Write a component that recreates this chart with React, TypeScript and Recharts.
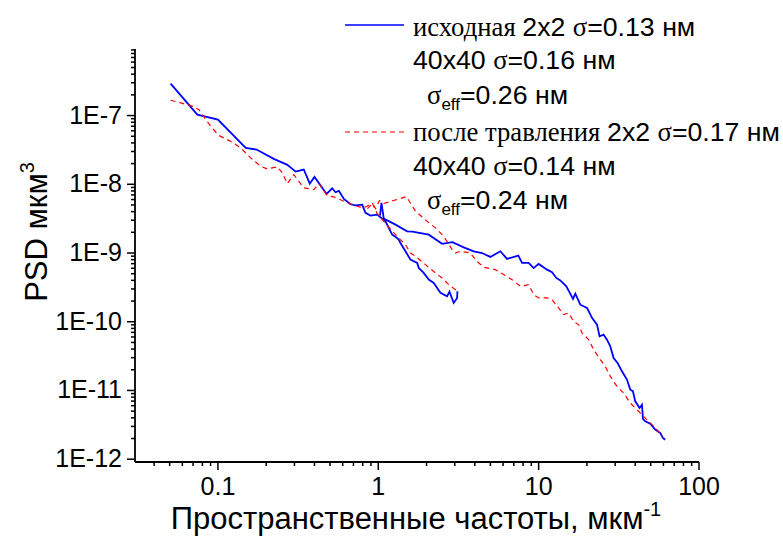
import React from 'react';
import { LineChart, Line, XAxis, YAxis } from 'recharts';

// ---- Data (spatial frequency, 1/µm ; PSD, µm^3) ----
const origLowFreq = [0.0507, 0.0744, 0.1, 0.149, 0.174, 0.223, 0.271, 0.305, 0.343, 0.374, 0.4, 0.476, 0.516, 0.541, 0.568, 0.61, 0.671, 0.721, 0.794, 0.832, 0.894, 0.984, 1.109, 1.221, 1.28, 1.342, 1.375, 1.477, 1.587, 1.748, 1.788, 1.92, 2.064, 2.218, 2.441, 2.687, 2.777, 2.954, 3.102, 3.115];
const origLowPsd = [2.92e-7, 1.03e-7, 8.74e-8, 3.39e-8, 3.2e-8, 2.34e-8, 1.92e-8, 1.53e-8, 1.64e-8, 1.02e-8, 1.28e-8, 7.24e-9, 8.75e-9, 7.65e-9, 8.02e-9, 6.13e-9, 5.12e-9, 4.95e-9, 5.06e-9, 3.84e-9, 3.5e-9, 3.62e-9, 2.89e-9, 1.85e-9, 1.72e-9, 1.57e-9, 1.4e-9, 1.06e-9, 8.02e-10, 7.18e-10, 6.07e-10, 5.13e-10, 4.1e-10, 3.67e-10, 2.63e-10, 2.34e-10, 2.74e-10, 1.88e-10, 2.22e-10, 2.77e-10];

const origHighFreq = [1.025, 1.047, 1.082, 1.28, 1.514, 1.633, 2.064, 2.5, 2.9, 3.41, 3.94, 4.44, 5.0, 5.77, 6.35, 7.47, 7.88, 8.66, 9.31, 10.0, 11.28, 12.12, 12.89, 13.65, 14.88, 15.38, 16.38, 16.93, 18.19, 20.03, 21.51, 23.12, 23.99, 25.41, 26.68, 27.98, 29.34, 31.06, 33.08, 35.54, 37.27, 38.74, 40.04, 42.6, 44.1, 44.72, 46.22, 49.66, 53.34, 57.32, 59.57, 61.5];
const origHighPsd = [3.5e-9, 5.36e-9, 3.17e-9, 2.59e-9, 2.07e-9, 2.05e-9, 1.85e-9, 1.36e-9, 1.44e-9, 1.21e-9, 1.06e-9, 1.0e-9, 8.77e-10, 1.06e-9, 8.21e-10, 9.16e-10, 7.18e-10, 7.18e-10, 6.03e-10, 6.94e-10, 5.73e-10, 5.24e-10, 4.34e-10, 4.0e-10, 3.28e-10, 2.84e-10, 2.15e-10, 2.56e-10, 1.77e-10, 1.59e-10, 1.14e-10, 9.08e-11, 6.13e-11, 6.49e-11, 5.49e-11, 4.38e-11, 2.97e-11, 2.51e-11, 1.9e-11, 1.44e-11, 1.03e-11, 9.71e-12, 6.94e-12, 5.56e-12, 6.21e-12, 3.85e-12, 3.55e-12, 3.29e-12, 2.69e-12, 2.41e-12, 2.04e-12, 1.92e-12];

const etchLowFreq = [0.0507, 0.0586, 0.0692, 0.0762, 0.0799, 0.09, 0.1014, 0.12, 0.1385, 0.16, 0.1845, 0.203, 0.2345, 0.252, 0.2706, 0.2975, 0.343, 0.396, 0.426, 0.48, 0.528, 0.61, 0.739, 0.794, 0.853, 0.916, 0.984, 1.082, 1.28, 1.477, 1.587, 1.706, 1.968, 2.272, 2.5, 2.75, 3.027, 3.115];
const etchLowPsd = [1.67e-7, 1.53e-7, 1.37e-7, 1.22e-7, 1.03e-7, 6.99e-8, 5.12e-8, 4.23e-8, 3.39e-8, 2.42e-8, 1.83e-8, 1.67e-8, 1.79e-8, 1.47e-8, 1.02e-8, 1.38e-8, 8.86e-9, 8.37e-9, 1.02e-8, 6.85e-9, 6.56e-9, 5.65e-9, 4.79e-9, 4.53e-9, 4.79e-9, 5.36e-9, 3.75e-9, 2.89e-9, 1.85e-9, 1.32e-9, 1.0e-9, 8.95e-10, 6.78e-10, 5.13e-10, 4.34e-10, 3.47e-10, 2.93e-10, 3.24e-10];

const etchHighFreq = [0.856, 0.92, 0.961, 1.017, 1.077, 1.499, 1.706, 2.017, 2.272, 2.56, 2.887, 3.027, 3.25, 3.75, 4.13, 4.54, 5.37, 6.05, 6.83, 7.69, 8.66, 9.31, 10.0, 11.28, 12.12, 13.32, 14.31, 15.38, 16.52, 17.75, 18.64, 20.49, 22.01, 24.24, 26.04, 27.98, 30.79, 33.85, 37.27, 41.03, 45.1, 49.66, 54.7, 58.99];
const etchHighPsd = [4.43e-9, 5.24e-9, 4.43e-9, 5.79e-9, 5.24e-9, 6.62e-9, 4.05e-9, 2.89e-9, 2.32e-9, 1.75e-9, 1.12e-9, 1.0e-9, 1.06e-9, 1.0e-9, 7.57e-10, 6.19e-10, 5.73e-10, 4.85e-10, 4.1e-10, 3.28e-10, 3.47e-10, 2.48e-10, 2.22e-10, 2.22e-10, 2.1e-10, 1.59e-10, 1.27e-10, 1.34e-10, 1.01e-10, 9.08e-11, 6.87e-11, 5.49e-11, 3.93e-11, 2.81e-11, 2.24e-11, 1.6e-11, 1.15e-11, 9.2e-12, 6.58e-12, 5.25e-12, 4.2e-12, 3.37e-12, 2.69e-12, 2.13e-12];

// ---- Ticks ----
const xMajorTicks = [0.1, 1, 10, 100];
const xMajorLabels = ['0.1', '1', '10', '100'];
const xMinorTicks = [0.04, 0.05, 0.06, 0.07, 0.08, 0.09, 0.2, 0.3, 0.4, 0.5, 0.6, 0.7, 0.8, 0.9, 2, 3, 4, 5, 6, 7, 8, 9, 20, 30, 40, 50, 60, 70, 80, 90];
const yMajorTicks = [1e-12, 1e-11, 1e-10, 1e-9, 1e-8, 1e-7];
const yMajorLabels = ['1E-12', '1E-11', '1E-10', '1E-9', '1E-8', '1E-7'];
const yMinorTicks = [
  2e-12, 3e-12, 4e-12, 5e-12, 6e-12, 7e-12, 8e-12, 9e-12,
  2e-11, 3e-11, 4e-11, 5e-11, 6e-11, 7e-11, 8e-11, 9e-11,
  2e-10, 3e-10, 4e-10, 5e-10, 6e-10, 7e-10, 8e-10, 9e-10,
  2e-9, 3e-9, 4e-9, 5e-9, 6e-9, 7e-9, 8e-9, 9e-9,
  2e-8, 3e-8, 4e-8, 5e-8, 6e-8, 7e-8, 8e-8, 9e-8,
  2e-7, 3e-7, 4e-7, 5e-7, 6e-7, 7e-7, 8e-7, 9e-7,
];
const xDomain = [0.0304, 100];
const yDomain = [9.1e-13, 9.3e-7];

const zip = (xs: number[], ys: number[]) => xs.map((f, i) => ({ f, p: ys[i] }));
const origLow = zip(origLowFreq, origLowPsd);
const origHigh = zip(origHighFreq, origHighPsd);
const etchLow = zip(etchLowFreq, etchLowPsd);
const etchHigh = zip(etchHighFreq, etchHighPsd);

const SANS = 'Arial, "Liberation Sans", sans-serif';
const SERIF = '"Times New Roman", "Liberation Serif", serif';
const TICK_FS = 25;

const XTick = (props: any) => {
  const { x, y, payload } = props;
  const idx = xMajorTicks.indexOf(payload.value);
  const major = idx >= 0;
  return (
    <g>
      <line x1={x} x2={x} y1={y} y2={y + (major ? 8 : 4)} stroke="#000" strokeWidth={1.5} />
      {major && (
        <text x={x} y={y + 33} textAnchor="middle" fontSize={TICK_FS} fontFamily={SANS} fill="#000">
          {xMajorLabels[idx]}
        </text>
      )}
    </g>
  );
};

const YTick = (props: any) => {
  const { x, y, payload } = props;
  const idx = yMajorTicks.indexOf(payload.value);
  const major = idx >= 0;
  return (
    <g>
      <line x1={x} x2={x - (major ? 8 : 4)} y1={y} y2={y} stroke="#000" strokeWidth={1.5} />
      {major && (
        <text x={x - 13} y={y + 8} textAnchor="end" fontSize={TICK_FS} fontFamily={SANS} fill="#000">
          {yMajorLabels[idx]}
        </text>
      )}
    </g>
  );
};

const LFS = 26.7;

export default function App() {
  return (
    <div style={{ position: 'absolute', left: 0, top: 0, width: 783, height: 536, background: '#fff', overflow: 'hidden' }}>
      <LineChart width={783} height={536} margin={{ top: 49, right: 84, bottom: 0, left: 0 }}>
        <XAxis
          dataKey="f"
          type="number"
          scale="log"
          domain={xDomain}
          allowDataOverflow
          ticks={[...xMinorTicks, ...xMajorTicks].sort((a, b) => a - b)}
          interval={0}
          tick={<XTick />}
          tickLine={false}
          tickSize={0}
          tickMargin={0}
          height={74}
          axisLine={{ stroke: '#000', strokeWidth: 1.8 }}
        />
        <YAxis
          dataKey="p"
          type="number"
          scale="log"
          domain={yDomain}
          allowDataOverflow
          ticks={[...yMinorTicks, ...yMajorTicks].sort((a, b) => a - b)}
          interval={0}
          tick={<YTick />}
          tickLine={false}
          tickSize={0}
          tickMargin={0}
          width={135}
          axisLine={{ stroke: '#000', strokeWidth: 1.8 }}
        />
        <Line data={origLow} dataKey="p" stroke="#0000ff" strokeWidth={1.8} dot={false} isAnimationActive={false} />
        <Line data={origHigh} dataKey="p" stroke="#0000ff" strokeWidth={1.8} dot={false} isAnimationActive={false} />
        <Line data={etchLow} dataKey="p" stroke="#ff0000" strokeWidth={1.2} strokeDasharray="5 4" dot={false} isAnimationActive={false} />
        <Line data={etchHigh} dataKey="p" stroke="#ff0000" strokeWidth={1.2} strokeDasharray="5 4" dot={false} isAnimationActive={false} />
      </LineChart>
      <svg width={783} height={536} style={{ position: 'absolute', left: 0, top: 0, pointerEvents: 'none' }}>
        {/* Y axis title */}
        <text transform="translate(47,232) rotate(-90)" textAnchor="middle" fontSize={31} fontFamily={SANS} fill="#000">
          PSD мкм<tspan fontSize={20} dy={-13}>3</tspan>
        </text>
        {/* X axis title */}
        <text x={416} y={529} textAnchor="middle" fontSize={31} fontFamily={SANS} fill="#000">
          Пространственные частоты, мкм<tspan fontSize={20} dy={-13}>-1</tspan>
        </text>
        {/* Legend */}
        <line x1={345} x2={404} y1={25} y2={25} stroke="#0000ff" strokeWidth={1.6} />
        <text x={413} y={36} fontSize={LFS} fontFamily={SANS} fill="#000">
          <tspan fontFamily={SERIF}>исходная </tspan>2x2 <tspan fontFamily={SERIF}>σ</tspan>=0.13 нм
        </text>
        <text x={413} y={69} fontSize={LFS} fontFamily={SANS} fill="#000">
          40x40 <tspan fontFamily={SERIF}>σ</tspan>=0.16 нм
        </text>
        <text x={427} y={104} fontSize={LFS} fontFamily={SANS} fill="#000">
          <tspan fontFamily={SERIF}>σ</tspan><tspan fontSize={17} dy={6}>eff</tspan><tspan dy={-6}>=0.26 нм</tspan>
        </text>
        <line x1={345} x2={404} y1={132} y2={132} stroke="#ff0000" strokeWidth={1.2} strokeDasharray="5 4" />
        <text x={413} y={141} fontSize={LFS} fontFamily={SANS} fill="#000">
          <tspan fontFamily={SERIF}>после травления </tspan>2x2 <tspan fontFamily={SERIF}>σ</tspan>=0.17 нм
        </text>
        <text x={413} y={175} fontSize={LFS} fontFamily={SANS} fill="#000">
          40x40 <tspan fontFamily={SERIF}>σ</tspan>=0.14 нм
        </text>
        <text x={427} y={209} fontSize={LFS} fontFamily={SANS} fill="#000">
          <tspan fontFamily={SERIF}>σ</tspan><tspan fontSize={17} dy={6}>eff</tspan><tspan dy={-6}>=0.24 нм</tspan>
        </text>
      </svg>
    </div>
  );
}
